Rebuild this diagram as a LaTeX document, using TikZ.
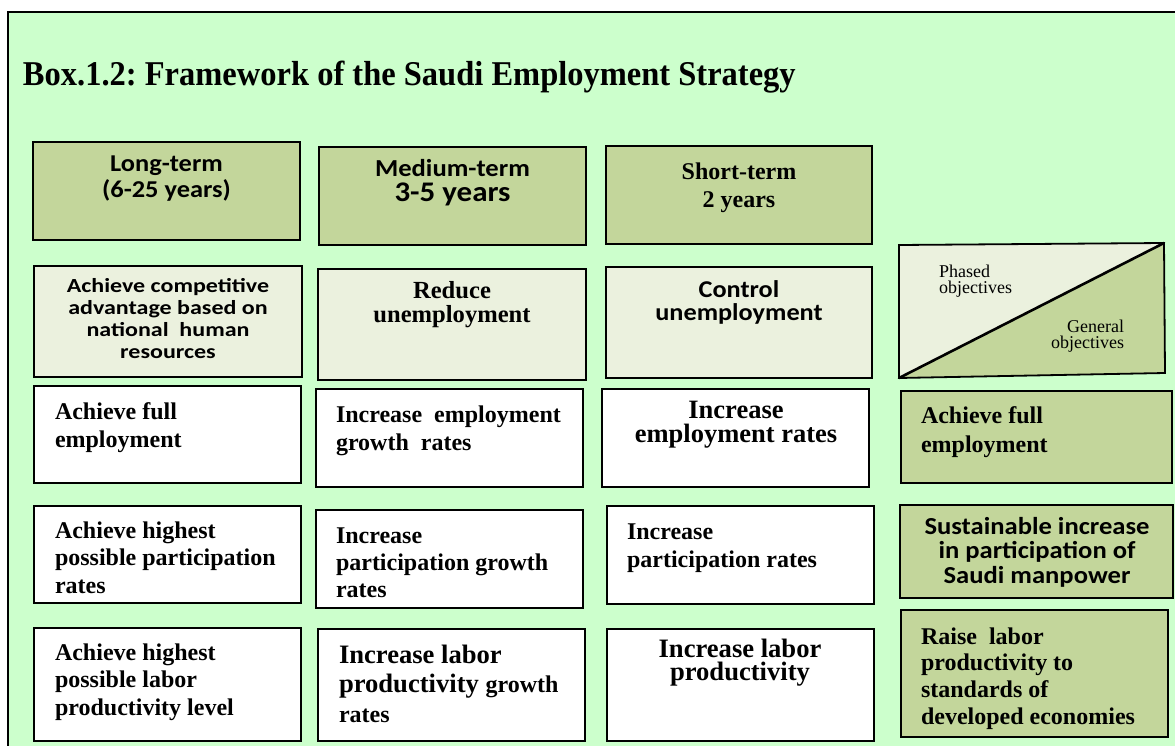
\documentclass[tikz,border=0pt]{standalone}
\usepackage{fontspec}
\setmainfont{Liberation Serif}
\newfontfamily\carl[FakeStretch=1.09]{Carlito}
\newfontfamily\carlw[FakeStretch=1.2]{Carlito}
\usetikzlibrary{fit}
\definecolor{bg}{HTML}{CCFFCC}
\definecolor{dk}{HTML}{C3D69B}
\definecolor{lt}{HTML}{EBF1DE}
\newcommand\Lft[1]{\vtop{\halign{##\hfil\cr#1\crcr}}}
\newcommand\Ctr[1]{\vtop{\halign{\hfil##\hfil\cr#1\crcr}}}
\newcommand\Rgt[1]{\vtop{\halign{\hfil##\cr#1\crcr}}}
\frenchspacing
\begin{document}
\begin{tikzpicture}[x=1pt,y=-1pt,
  bx/.style={draw=black, line width=1.8pt, inner sep=0pt, outer sep=0pt},
  dkbox/.style={bx, fill=dk},
  ltbox/.style={bx, fill=lt},
  wbox/.style={bx, fill=white},
  tx/.style={inner sep=0pt, outer sep=0pt, text=black}]
\useasboundingbox (0,0) rectangle (1175,746);
\fill[bg] (8,12) rectangle (1175,746);
\draw[line width=2pt] (8,747) -- (8,12) -- (1176,12);

\node[tx, anchor=base west] (title) at (23,86) {\fontsize{32.5}{36}\selectfont\bfseries\scalebox{1}[1.07]{Box.1.2: Framework of the Saudi Employment Strategy}};

% header row
\node[dkbox, fit={(33,142)(300,240)}] (h1) {};
\node[dkbox, fit={(319,147)(586,245)}] (h2) {};
\node[dkbox, fit={(606,146)(872,244)}] (h3) {};
\node[tx, anchor=base] (h1t) at (166.5,172) {\fontsize{24.2}{25}\carl\bfseries\Ctr{Long-term\cr(6-25 years)}};
\node[tx, anchor=base] (h2t) at (452.5,177) {\fontsize{24.4}{25}\carl\bfseries\Ctr{Medium-term\cr\fontsize{28.4}{25}\selectfont 3-5 years}};
\node[tx, anchor=base] (h3t) at (739,180) {\fontsize{24}{28}\selectfont\bfseries\Ctr{Short-term\cr 2 years}};

% row 1
\node[ltbox, fit={(34,266)(302,377)}] (r1a) {};
\node[ltbox, fit={(318,269)(586,380)}] (r1b) {};
\node[ltbox, fit={(606,267)(872,378)}] (r1c) {};
\node[tx, anchor=base] (r1at) at (168,292.3) {\fontsize{20}{22}\carlw\bfseries\Ctr{Achieve competitive\cr advantage based on\cr national\ \ human\cr resources}};
\node[tx, anchor=base] (r1bt) at (452,298) {\fontsize{24.6}{24.5}\selectfont\bfseries\Ctr{Reduce\cr unemployment}};
\node[tx, anchor=base] (r1ct) at (739,297) {\fontsize{24.1}{23.5}\carl\bfseries\Ctr{Control\cr unemployment}};

% diagonal legend box
\coordinate (dTL) at (899,245);
\coordinate (dTR) at (1164,243);
\coordinate (dBR) at (1165,373);
\coordinate (dBL) at (899,378);
\fill[lt] (dTL) -- (dTR) -- (dBL) -- cycle;
\fill[dk] (dBL) -- (dTR) -- (dBR) -- cycle;
\draw[line width=1.8pt, line join=miter] (dTL) -- (dTR) -- (dBR) -- (dBL) -- cycle;
\draw[line width=2.6pt, line cap=round] (dBL) -- (dTR);
\node[tx, anchor=base west] (phased) at (939,277) {\fontsize{18}{16.5}\selectfont\Lft{Phased\cr objectives}};
\node[tx, anchor=base east] (general) at (1124,332) {\fontsize{18}{16.5}\selectfont\Rgt{General\cr objectives}};

% row 2
\node[wbox, fit={(34,386)(301,483)}] (r2a) {};
\node[wbox, fit={(316,389)(583,487)}] (r2b) {};
\node[wbox, fit={(602,389)(869,487)}] (r2c) {};
\node[dkbox, fit={(901,391)(1172,483)}] (r2d) {};
\node[tx, anchor=base west] (r2at) at (55,419) {\fontsize{24}{28}\selectfont\bfseries\Lft{Achieve full\cr employment}};
\node[tx, anchor=base west] (r2bt) at (336,422) {\fontsize{24}{28}\selectfont\bfseries\Lft{Increase\ \ employment\cr growth\ \ rates}};
\node[tx, anchor=base] (r2ct) at (736,418) {\fontsize{26.5}{24.5}\selectfont\bfseries\Ctr{Increase\cr employment rates}};
\node[tx, anchor=base west] (r2dt) at (921,423) {\fontsize{24}{29}\selectfont\bfseries\Lft{Achieve full\cr employment}};

% row 3
\node[wbox, fit={(34,506)(301,603)}] (r3a) {};
\node[wbox, fit={(316,510)(583,608)}] (r3b) {};
\node[wbox, fit={(607,506)(874,604)}] (r3c) {};
\node[dkbox, fit={(900,505)(1173,598)}] (r3d) {};
\node[tx, anchor=base west] (r3at) at (55,538) {\fontsize{24}{27.5}\selectfont\bfseries\Lft{Achieve highest\cr possible participation\cr rates}};
\node[tx, anchor=base west] (r3bt) at (336,543) {\fontsize{24}{27}\selectfont\bfseries\Lft{Increase\cr participation growth\cr rates}};
\node[tx, anchor=base west] (r3ct) at (627,539) {\fontsize{24}{28}\selectfont\bfseries\Lft{Increase\cr participation rates}};
\node[tx, anchor=base] (r3dt) at (1037,534) {\fontsize{24.4}{24.5}\carl\bfseries\Ctr{Sustainable increase\cr in participation of\cr Saudi manpower}};

% row 4
\node[wbox, fit={(34,628)(301,741)}] (r4a) {};
\node[wbox, fit={(318,629)(585,741)}] (r4b) {};
\node[wbox, fit={(607,629)(874,741)}] (r4c) {};
\node[dkbox, fit={(901,610)(1168,737)}] (r4d) {};
\node[tx, anchor=base west] (r4at) at (55,660) {\fontsize{24}{27.5}\selectfont\bfseries\Lft{Achieve highest\cr possible labor\cr productivity level}};
\node[tx, anchor=base west] (r4bt) at (339,663) {\fontsize{26.6}{29.5}\selectfont\bfseries\Lft{Increase labor\cr productivity {\fontsize{24}{29.5}\selectfont growth}\cr\fontsize{24}{29.5}\selectfont rates}};
\node[tx, anchor=base] (r4ct) at (740,657) {\fontsize{26.6}{23.5}\selectfont\bfseries\Ctr{Increase labor\cr productivity}};
\node[tx, anchor=base west] (r4dt) at (921,644) {\fontsize{24}{26.7}\selectfont\bfseries\Lft{Raise\ \ labor\cr productivity to\cr standards of\cr developed economies}};
\end{tikzpicture}
\end{document}
